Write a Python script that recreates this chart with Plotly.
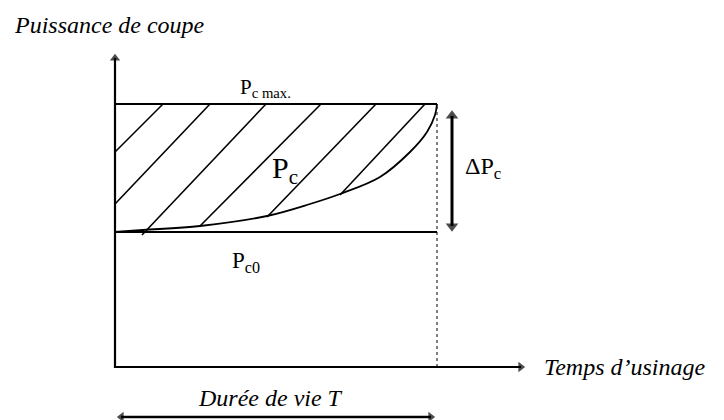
import math
import plotly.graph_objects as go

# ---- schematic data (time t, cutting power P), origin at axes intersection ----
T_life = 322          # tool life T
P_c0 = 135            # initial cutting power
P_cmax = 263          # maximum cutting power
t_axis_end = 412      # end of time axis (arrow tip)
P_axis_end = 315      # end of power axis (arrow tip)

curve_t = [0, 28, 85, 152, 195, 225, 265, 295, 312, 320, 322]
curve_P = [135, 137, 141, 151, 163, 173, 190, 215, 235, 252, 263]

hatch_top_t = [48, 95, 151, 206, 261, 310]
hatch_bot_t = [0, 0, 27, 85, 152, 225]
hatch_bot_P = [215, 163, 132, 141, 150, 172]

dP_arrow_t = 337
dP_arrow_P = [133, 259]
life_arrow_P = -50

FONT = "Liberation Serif, Times New Roman, serif"

fig = go.Figure()

def line(x, y, width, dash="solid", shape="linear"):
    fig.add_trace(go.Scatter(x=x, y=y, mode="lines", line_shape=shape,
                             line=dict(color="black", width=width, dash=dash),
                             hoverinfo="skip"))

# hatch lines
hx, hy = [], []
for tt, tb, pb in zip(hatch_top_t, hatch_bot_t, hatch_bot_P):
    hx += [tb, tt, None]
    hy += [pb, P_cmax, None]
line(hx, hy, 1.6)

# curve Pc(t)
line(curve_t, curve_P, 1.8, shape="spline")

# Pc max and Pc0 lines
line([0, T_life], [P_cmax, P_cmax], 2)
line([0, T_life], [P_c0, P_c0], 2)

# dotted vertical at T
line([T_life, T_life], [0, P_cmax], 1, dash="dot")

# axes
line([0, 0, t_axis_end - 6], [P_axis_end - 6, 0, 0], 2.2)

# double arrows shafts
line([dP_arrow_t, dP_arrow_t], [dP_arrow_P[0] + 8, dP_arrow_P[1] - 8], 3)
line([6, T_life - 6], [life_arrow_P, life_arrow_P], 2.5)

# arrow heads: triangle markers, shifted so that the tip lies on the point
tips = [  # (t, P, direction, size)
    (0, P_axis_end, "up", 9),
    (t_axis_end, 0, "right", 9),
    (dP_arrow_t, dP_arrow_P[1], "up", 11),
    (dP_arrow_t, dP_arrow_P[0], "down", 11),
    (0, life_arrow_P, "left", 9),
    (T_life, life_arrow_P, "right", 9),
]
dirs = {"up": (0, 1), "down": (0, -1), "left": (-1, 0), "right": (1, 0)}
hx, hy, hs, hsym = [], [], [], []
for t, p, d, s in tips:
    off = s / 2 * math.sqrt(2)
    dx, dy = dirs[d]
    hx.append(t - dx * off)
    hy.append(p - dy * off)
    hs.append(s)
    hsym.append("triangle-" + d)
fig.add_trace(go.Scatter(x=hx, y=hy, mode="markers", hoverinfo="skip",
                         marker=dict(symbol=hsym, size=hs, color="black",
                                     line=dict(width=0))))

def label(x, y, text, size, italic=False, xanchor="left"):
    fig.add_annotation(x=x, y=y, xref="x", yref="y", text=text, showarrow=False,
                       xanchor=xanchor, yanchor="middle",
                       font=dict(family=FONT, size=size, color="black",
                                 style="italic" if italic else "normal"))

label(-103, 342, "Puissance de coupe", 24, italic=True)
label(427, 0, "Temps d\u2019usinage", 24, italic=True)
label(155, -31, "Durée de vie T", 24, italic=True, xanchor="center")
label(123, 279, "P<sub>c max.</sub>", 21)
label(155, 197, "P<sub>c</sub>", 30)
label(115, 105, "P<sub>c0</sub>", 23)
label(348, 199, "\u0394P<sub>c</sub>", 24)

# page body has an 8px margin: figure covers page pixels 8..724 x 8..420
fig.update_layout(
    width=716, height=412, margin=dict(l=0, r=0, t=0, b=0),
    paper_bgcolor="white", plot_bgcolor="white", showlegend=False,
    xaxis=dict(range=[-107, 609], visible=False, fixedrange=True),
    yaxis=dict(range=[-53, 359], visible=False, fixedrange=True),
)

fig.write_html("out.html")
